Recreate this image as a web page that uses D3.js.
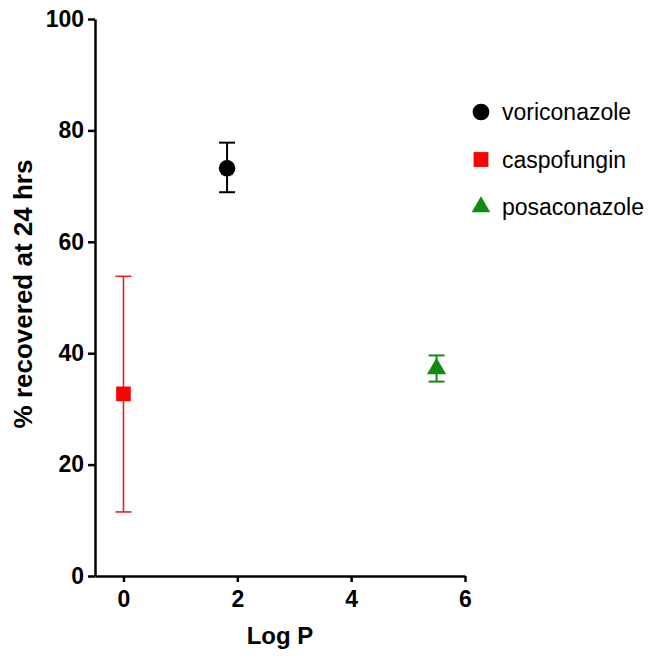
<!DOCTYPE html>
<html>
<head>
<meta charset="utf-8">
<script src="https://cdn.jsdelivr.net/npm/d3@7"></script>
<style>
  body { margin: 0; background: #fff; }
  svg { font-family: Arial, "Liberation Sans", sans-serif; }
</style>
</head>
<body>
<svg width="659" height="663"></svg>
<script>
// drugs, their log P, mean recovery and error bar ends
var drugs = ["voriconazole", "caspofungin", "posaconazole"];
var logP = [1.82, 0, 5.5];
var recovered = [73.2, 32.7, 37.2];
var errLow = [68.9, 11.5, 34.9];
var errHigh = [77.8, 53.8, 39.6];
var colors = ["#000000", "#ff0000", "#138a13"];
var barColors = ["#000000", "#e02424", "#138a13"];
var shapes = [d3.symbolCircle, d3.symbolSquare, d3.symbolTriangle];
var xTicks = [0, 2, 4, 6];
var yTicks = [0, 20, 40, 60, 80, 100];

var svg = d3.select("svg");

var x = d3.scaleLinear().domain([-0.5, 6]).range([95, 465]);
var y = d3.scaleLinear().domain([0, 100]).range([576, 19]);

// axes
var xAxis = svg.append("g")
    .attr("transform", "translate(0,576)")
    .call(d3.axisBottom(x).tickValues(xTicks).tickFormat(d3.format("d"))
        .tickSize(6).tickSizeOuter(0).tickPadding(7));
var yAxis = svg.append("g")
    .attr("transform", "translate(95,0)")
    .call(d3.axisLeft(y).tickValues(yTicks).tickFormat(d3.format("d"))
        .tickSize(7).tickSizeOuter(0).tickPadding(4));

[xAxis, yAxis].forEach(function (a) {
    a.select(".domain").attr("stroke", "#000").attr("stroke-width", 2.5);
    a.selectAll(".tick line").attr("stroke", "#000").attr("stroke-width", 2.5);
    a.selectAll(".tick text")
        .attr("fill", "#000")
        .style("font-size", "23px")
        .style("font-weight", "bold");
});
xAxis.selectAll(".tick text").attr("dy", "0.8em");

// axis titles
svg.append("text")
    .attr("x", 280).attr("y", 644)
    .attr("text-anchor", "middle")
    .style("font-size", "24px").style("font-weight", "bold")
    .text("Log P");
svg.append("text")
    .attr("transform", "translate(32,294) rotate(-90)")
    .attr("text-anchor", "middle")
    .style("font-size", "26px").style("font-weight", "bold")
    .text("% recovered at 24 hrs");

// error bars
var idx = d3.range(drugs.length);
var bars = svg.append("g").selectAll("g").data(idx).enter().append("g")
    .attr("stroke", function (i) { return barColors[i]; })
    .attr("stroke-width", function (i) { return i === 1 ? 1.6 : 2; });
bars.append("line")
    .attr("x1", function (i) { return x(logP[i]); })
    .attr("x2", function (i) { return x(logP[i]); })
    .attr("y1", function (i) { return y(errLow[i]); })
    .attr("y2", function (i) { return y(errHigh[i]); });
[errLow, errHigh].forEach(function (arr) {
    bars.append("line")
        .attr("x1", function (i) { return x(logP[i]) - 8; })
        .attr("x2", function (i) { return x(logP[i]) + 8; })
        .attr("y1", function (i) { return y(arr[i]); })
        .attr("y2", function (i) { return y(arr[i]); });
});

// markers
svg.append("g").selectAll("path").data(idx).enter().append("path")
    .attr("transform", function (i) { return "translate(" + x(logP[i]) + "," + y(recovered[i]) + ")"; })
    .attr("d", function (i) { return d3.symbol().type(shapes[i]).size(i === 2 ? 160 : 215)(); })
    .attr("fill", function (i) { return colors[i]; });

// legend
var legend = svg.append("g").selectAll("g").data(idx).enter().append("g")
    .attr("transform", function (i) { return "translate(481," + (112 + i * 47.5) + ")"; });
legend.append("path")
    .attr("d", function (i) { return d3.symbol().type(shapes[i]).size(i === 2 ? 150 : 220)(); })
    .attr("fill", function (i) { return colors[i]; });
legend.append("text")
    .attr("x", 21).attr("dy", "0.35em")
    .style("font-size", "23px")
    .text(function (i) { return drugs[i]; });
</script>
</body>
</html>
